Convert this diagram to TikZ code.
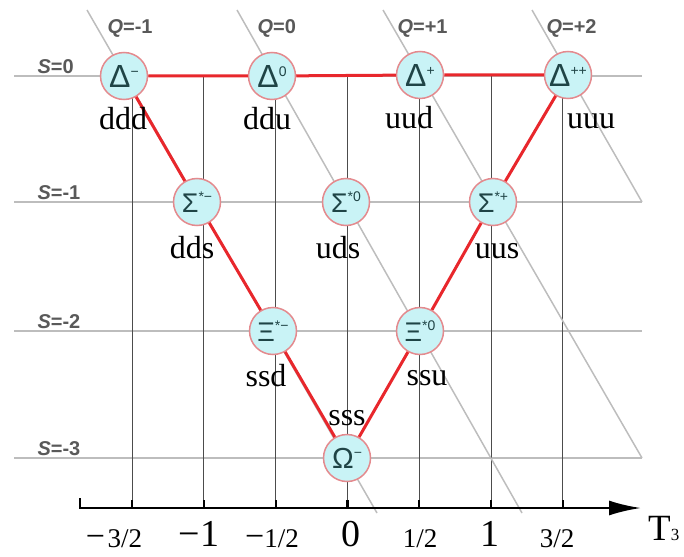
\documentclass[tikz,border=0pt]{standalone}
\usepackage{fontspec}
\setmainfont{Liberation Serif}
\newfontfamily\symfont{Liberation Sans}
\usepackage{tikz}
\usetikzlibrary{arrows.meta}
\definecolor{gridgray}{gray}{.74}
\definecolor{tgray}{gray}{.3}
\definecolor{labgray}{gray}{.35}
\definecolor{bfill}{HTML}{C9F3F6}
\definecolor{bring}{HTML}{E48A8E}
\definecolor{edgered}{HTML}{E8272C}
\definecolor{symcol}{HTML}{1F4446}
\newcommand{\chg}[1]{\raisebox{11pt}{\fontsize{14}{14}\selectfont #1}}

\begin{document}
\begin{tikzpicture}[x=1pt,y=-1pt,
  baryon/.style={circle,draw=bring,line width=1.5pt,fill=bfill,minimum size=47pt,
                 inner sep=0pt,text=symcol,font=\symfont\fontsize{32}{32}\selectfont},
  quarks/.style={anchor=base,font=\fontsize{32}{32}\selectfont},
  slabel/.style={anchor=base west,text=labgray,font=\symfont\bfseries\fontsize{20}{20}\selectfont},
  qlabel/.style={anchor=base west,text=labgray,font=\symfont\bfseries\fontsize{20}{20}\selectfont},
  ticklabel/.style={anchor=base,inner sep=0pt},
  gridline/.style={gridgray,line width=2pt},
  qline/.style={gridgray,line width=1.5pt},
  vline/.style={tgray,line width=.8pt},
  redge/.style={edgered,line width=3pt}]
  \useasboundingbox (0,0) rectangle (684,556);

  % strangeness lines
  \foreach \y in {76,202,331,458}
    \draw[gridline] (14,\y) -- (642,\y);
  % T3 lines
  \foreach \x in {132,203.8,275.6,347.4,419.2,491,562.8}
    \draw[vline] (\x,76) -- (\x,508);
  % charge lines
  \coordinate (qmtop) at (87,10);   \coordinate (qmend) at (377,513);
  \coordinate (qztop) at (237,10);  \coordinate (qzend) at (522,513);
  \coordinate (qptop) at (383,10);  \coordinate (qpend) at (642,458);
  \coordinate (qpptop) at (532,10); \coordinate (qppend) at (642,202);
  \draw[qline] (qmtop) -- (qmend);
  \draw[qline] (qztop) -- (qzend);
  \draw[qline] (qptop) -- (qpend);
  \draw[qline] (qpptop) -- (qppend);

  \node[slabel] (s0) at (34,74) {\textit{S}=0};
  \node[slabel] (s1) at (34,199) {\textit{S}=-1};
  \node[slabel] (s2) at (34,328) {\textit{S}=-2};
  \node[slabel] (s3) at (34,455) {\textit{S}=-3};
  \node[qlabel] (q0) at (104,34) {\textit{Q}=-1};
  \node[qlabel] (q1) at (254,34) {\textit{Q}=0};
  \node[qlabel] (q2) at (394,34) {\textit{Q}=+1};
  \node[qlabel] (q3) at (543,34) {\textit{Q}=+2};

  % axis
  \coordinate (axstart) at (80,498);
  \coordinate (axend) at (641,508);
  \draw[line width=2.5pt,-{Latex[length=32pt,width=15pt]}] (axstart) |- (axend);
  \foreach \x in {132,203.8,275.6,347.4,419.2,491,562.8}
    \draw[line width=2.2pt] (\x,500) -- (\x,508);
  \node[ticklabel] (tm3) at (114,547) {{\fontsize{34}{34}\selectfont −} {\fontsize{27}{27}\selectfont 3/2}};
  \node[ticklabel] (tm2) at (199,546) {\fontsize{38}{38}\selectfont −1};
  \node[ticklabel] (tm1) at (272,547) {{\fontsize{34}{34}\selectfont −}{\fontsize{27}{27}\selectfont 1/2}};
  \node[ticklabel] (t0) at (351,546) {\fontsize{38}{38}\selectfont 0};
  \node[ticklabel] (t1) at (420,547) {\fontsize{27}{27}\selectfont 1/2};
  \node[ticklabel] (t2) at (490,546) {\fontsize{38}{38}\selectfont 1};
  \node[ticklabel] (t3) at (557,547) {\fontsize{27}{27}\selectfont 3/2};
  \node[anchor=base west,inner sep=0pt] (tlab) at (648,540) {\fontsize{37}{37}\selectfont T{\fontsize{17}{17}\selectfont 3}};

  % decuplet
  \node[baryon] (dm)  at (124,76) {Δ\chg{−}};
  \node[baryon] (dz)  at (272,76) {Δ\chg{0}};
  \node[baryon] (dp)  at (420,75) {Δ\chg{+}};
  \node[baryon] (dpp) at (568,75) {Δ\chg{++}};
  \node[baryon] (sm)  at (197,202) {{\fontsize{27}{27}\selectfont Σ}\chg{*−}};
  \node[baryon] (sz)  at (346,202) {{\fontsize{27}{27}\selectfont Σ}\chg{*0}};
  \node[baryon] (sp)  at (493,202) {{\fontsize{27}{27}\selectfont Σ}\chg{*+}};
  \node[baryon] (xm)  at (273,331) {{\fontsize{27}{27}\selectfont Ξ}\chg{*−}};
  \node[baryon] (xz)  at (420,331) {{\fontsize{27}{27}\selectfont Ξ}\chg{*0}};
  \node[baryon] (om)  at (347,458) {{\fontsize{29}{29}\selectfont Ω}\chg{−}};

  \draw[redge] (dm) -- (dz) -- (dp) -- (dpp) -- (sp) -- (xz) -- (om) -- (xm) -- (sm) -- (dm);

  \node[quarks] (qddd) at (123,130) {ddd};
  \node[quarks] (qddu) at (267,130) {ddu};
  \node[quarks] (quud) at (409,129) {uud};
  \node[quarks] (quuu) at (591,129) {uuu};
  \node[quarks] (qdds) at (192,258) {dds};
  \node[quarks] (quds) at (338,258) {uds};
  \node[quarks] (quus) at (497,258) {uus};
  \node[quarks] (qssd) at (266,386) {ssd};
  \node[quarks] (qssu) at (427,385) {ssu};
  \node[quarks] (qsss) at (347,425) {sss};
\end{tikzpicture}
\end{document}
